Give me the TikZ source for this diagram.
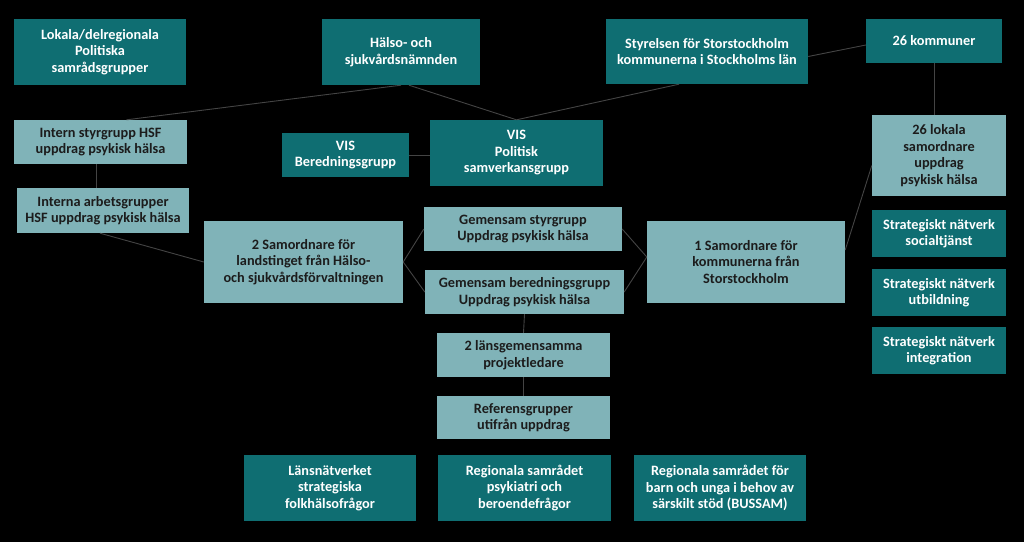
\documentclass[tikz,border=0pt]{standalone}
\usepackage{fontspec}
\setmainfont{Carlito}
\usepackage{xcolor}
\usetikzlibrary{positioning, calc}
\definecolor{orgDark}{HTML}{0F6E72}
\definecolor{orgLight}{HTML}{80B3B8}
\definecolor{orgText}{HTML}{1C1C1C}
\definecolor{orgLine}{HTML}{444444}
\tikzset{
  darkbox/.style  = {rectangle, fill=orgDark, text=white, inner sep=0pt,
                     align=center, font=\fontsize{14.3}{16.5}\selectfont\bfseries},
  lightbox/.style = {rectangle, fill=orgLight, text=orgText, inner sep=0pt,
                     align=center, font=\fontsize{14.3}{16.5}\selectfont\bfseries},
  link/.style     = {draw=orgLine, line width=0.9pt}
}

\begin{document}
\begin{tikzpicture}[x=1pt, y=-1pt]
\fill[black] (0,0) rectangle (1024,542);
\useasboundingbox (0,0) rectangle (1024,542);

% top row
\node[darkbox, minimum width=172pt, minimum height=66pt] (lokal) at (100,52)
  {Lokala/delregionala\\Politiska\\samrådsgrupper};
\node[darkbox, minimum width=158pt, minimum height=66pt] (halso) at (401,52)
  {Hälso- och\\sjukvårdsnämnden};
\node[darkbox, minimum width=202pt, minimum height=65pt] (styrelse) at (707,51.5)
  {Styrelsen för Storstockholm\\kommunerna i Stockholms län};
\node[darkbox, minimum width=136pt, minimum height=44pt] (kommuner) at (934,41)
  {26 kommuner};

% second row
\node[lightbox, minimum width=173pt, minimum height=44pt] (intern) at (100.5,142)
  {Intern styrgrupp HSF\\uppdrag psykisk hälsa};
\node[darkbox, minimum width=127pt, minimum height=44pt] (visber) at (345.5,155)
  {VIS\\Beredningsgrupp};
\node[darkbox, minimum width=173pt, minimum height=66pt] (vispol) at (516.5,153)
  {VIS\\Politisk\\samverkansgrupp};
\node[lightbox, minimum width=134pt, minimum height=81pt] (lokalasam) at (939,155.5)
  {26 lokala\\samordnare\\uppdrag\\psykisk hälsa};

% samordnare
\node[lightbox, minimum width=172pt, minimum height=45pt] (arbets) at (103,210.5)
  {Interna arbetsgrupper\\HSF uppdrag psykisk hälsa};
\node[lightbox, minimum width=199pt, minimum height=82pt] (samlt) at (303.5,262)
  {2 Samordnare för\\landstinget från Hälso-\\och sjukvårdsförvaltningen};
\node[lightbox, minimum width=198pt, minimum height=44pt] (gemstyr) at (523,229)
  {Gemensam styrgrupp\\Uppdrag psykisk hälsa};
\node[lightbox, minimum width=199pt, minimum height=44pt] (gember) at (524.5,292)
  {Gemensam beredningsgrupp\\Uppdrag psykisk hälsa};
\node[lightbox, minimum width=198pt, minimum height=82pt] (samkom) at (746,262)
  {1 Samordnare för\\kommunerna från\\Storstockholm};

% strategiska nätverk
\node[darkbox, minimum width=134pt, minimum height=47pt] (socialtj) at (939,233.5)
  {Strategiskt nätverk\\socialtjänst};
\node[darkbox, minimum width=134pt, minimum height=47pt] (utbild) at (939,292.5)
  {Strategiskt nätverk\\utbildning};
\node[darkbox, minimum width=134pt, minimum height=47pt] (integr) at (939,350.5)
  {Strategiskt nätverk\\integration};

% projekt
\node[lightbox, minimum width=173pt, minimum height=44pt] (projled) at (523.5,355)
  {2 länsgemensamma\\projektledare};
\node[lightbox, minimum width=173pt, minimum height=43pt] (referens) at (523.5,417.5)
  {Referensgrupper\\utifrån uppdrag};

% bottom row
\node[darkbox, minimum width=172pt, minimum height=66pt] (lansnat) at (330,488)
  {Länsnätverket\\strategiska\\folkhälsofrågor};
\node[darkbox, minimum width=173pt, minimum height=66pt] (regpsyk) at (524.5,488)
  {Regionala samrådet\\psykiatri och\\beroendefrågor};
\node[darkbox, minimum width=172pt, minimum height=66pt] (bussam) at (720,488)
  {Regionala samrådet för\\barn och unga i behov av\\särskilt stöd (BUSSAM)};

% connectors
\draw[link] (halso.south) -- ([xshift=26pt]intern.north);
\draw[link] ([xshift=8pt]halso.south) -- (vispol.north);
\draw[link] ([xshift=-28pt]styrelse.south) -- (vispol.north);
\draw[link] ([yshift=-5pt]styrelse.east) -- ([yshift=-4pt]kommuner.west);
\draw[link] (kommuner.south) -- (kommuner.south |- lokalasam.north);
\draw[link] (visber.east) -- (visber.east -| vispol.west);
\draw[link] ([xshift=-4pt]intern.south) -- ([xshift=-4pt]intern.south |- arbets.north);
\draw[link] ([xshift=-3pt]arbets.south) -- (samlt.west);
\draw[link] (samlt.east) -- (gemstyr.west);
\draw[link] (samlt.east) -- (gember.west);
\draw[link] (gemstyr.east) -- ([yshift=5pt]samkom.west);
\draw[link] (gember.east) -- ([yshift=5pt]samkom.west);
\draw[link] ([yshift=12pt]samkom.east) -- ([yshift=-10pt]lokalasam.west);
\draw[link] (gember.south) -- (projled.north);
\draw[link] (projled.south) -- (referens.north);
\end{tikzpicture}
\end{document}
